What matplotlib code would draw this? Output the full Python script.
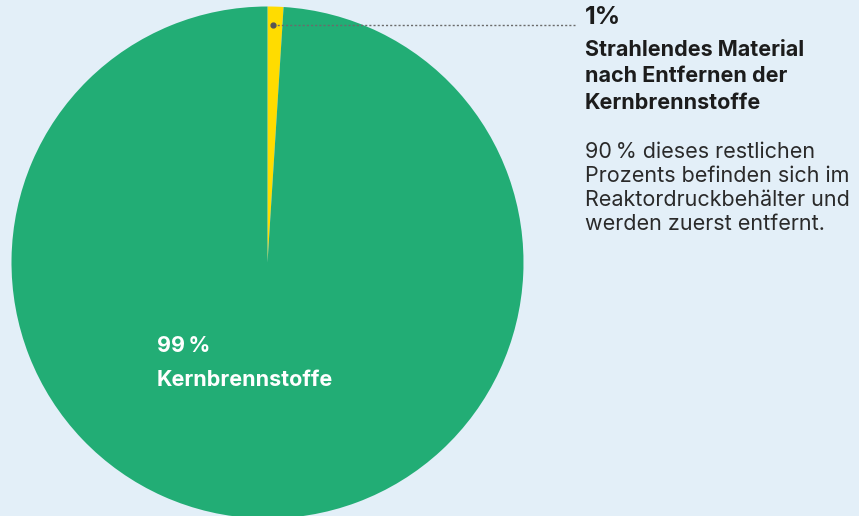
import matplotlib
matplotlib.use("Agg")
from matplotlib import pyplot as plt

# data
labels = ["Strahlendes Material", "Kernbrennstoffe"]
shares = [1, 99]
colors = ["#ffdc00", "#22ad75"]

bg = "#e3eff8"
plt.rcParams['font.family'] = ['Inter', 'DejaVu Sans']

fig = plt.figure(figsize=(8.59, 5.16), dpi=100, facecolor=bg)
ax = fig.add_axes([0, 0, 1, 1])
ax.set_facecolor(bg)

# pie in pixel coordinates (y upward)
cx, cy, r = 267.5, 516 - 262.5, 256
ax.pie(shares, colors=colors, startangle=90, counterclock=False,
       center=(cx, cy), radius=r, frame=True,
       wedgeprops=dict(linewidth=0))
ax.set_xlim(0, 859)
ax.set_ylim(0, 516)
ax.set_aspect('equal')
ax.axis('off')

# leader line to the small slice
ly = 516 - 25
ax.plot([273, 575], [ly, ly], color="#6b6b6b", linestyle=(0, (1.5, 1.5)), linewidth=1)
ax.plot([273], [ly], marker="o", markersize=3.5, color="#555555")

tx = 585
ax.text(tx, 516 - 18, "1%", fontsize=18, fontweight="bold", color="#1c1c1c", va="center", ha="left")
for i, line in enumerate(["Strahlendes Material", "nach Entfernen der", "Kernbrennstoffe"]):
    ax.text(tx, 516 - (50 + i * 26.5), line, fontsize=15.5, fontweight="bold",
            color="#1c1c1c", va="center", ha="left")
body = ["90\u2009% dieses restlichen", "Prozents befinden sich im",
        "Reaktordruckbehälter und", "werden zuerst entfernt."]
for i, line in enumerate(body):
    ax.text(tx, 516 - (152 + i * 24), line, fontsize=15.5, color="#2a2a2a",
            va="center", ha="left")

# big slice label
ax.text(157, 516 - 346, "99\u2009%", fontsize=15.5, fontweight="bold", color="white", va="center", ha="left")
ax.text(157, 516 - 380, "Kernbrennstoffe", fontsize=15.5, fontweight="bold", color="white", va="center", ha="left")

fig.savefig("out.png", dpi=100, facecolor=bg)
